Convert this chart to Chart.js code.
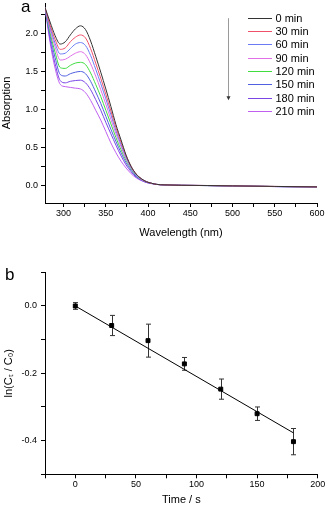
<!DOCTYPE html>
<html>
<head>
<meta charset="utf-8">
<script src="https://cdn.jsdelivr.net/npm/chart.js@4.4.0/dist/chart.umd.min.js"></script>
<style>
  html, body { margin: 0; padding: 0; background: #fff; }
  #wrap { position: relative; width: 327px; height: 507px; overflow: hidden; }
  canvas { position: absolute; left: 0; }
  #chartA { top: 0; }
  #chartB { top: 245px; }
  .panel { position: absolute; font: 17px Arial, "Liberation Sans", sans-serif; line-height: 1; color: #000; }
</style>
</head>
<body>
<div id="wrap">
  <canvas id="chartA" width="327" height="245"></canvas>
  <canvas id="chartB" width="327" height="262"></canvas>
  <div class="panel" style="left:21px; top:-2px;">a</div>
  <div class="panel" style="left:5px; top:266px;">b</div>
</div>
<script>
// panel a: absorption spectra
const wavelengths = [278, 284, 290, 296, 302, 308, 314, 320, 326, 332, 338, 344, 350, 356, 362, 368, 374, 380, 386, 392, 398, 404, 410, 420, 440, 470, 500, 550, 600];
const seriesLabels = ['0 min', '30 min', '60 min', '90 min', '120 min', '150 min', '180 min', '210 min'];
const seriesColors = ['#333333', '#f0506a', '#6a7cf5', '#e070e8', '#40dd40', '#5060e0', '#7a45e5', '#c060f0'];
const abs0   = [2.34, 2.15, 1.97, 1.86, 1.89, 1.98, 2.06, 2.10, 2.05, 1.90, 1.70, 1.49, 1.27, 1.04, 0.80, 0.60, 0.40, 0.25, 0.15, 0.09, 0.05, 0.03, 0.015, 0.008, 0.003, 0.0, -0.005, -0.012, -0.018];
const abs30  = [2.34, 2.11, 1.92, 1.79, 1.81, 1.89, 1.95, 1.98, 1.94, 1.80, 1.61, 1.41, 1.20, 0.98, 0.76, 0.57, 0.39, 0.25, 0.15, 0.09, 0.05, 0.03, 0.015, 0.008, 0.003, 0.0, -0.005, -0.012, -0.018];
const abs60  = [2.34, 2.08, 1.87, 1.73, 1.74, 1.80, 1.86, 1.88, 1.84, 1.71, 1.53, 1.34, 1.14, 0.93, 0.72, 0.54, 0.37, 0.24, 0.14, 0.09, 0.05, 0.03, 0.015, 0.008, 0.003, 0.0, -0.006, -0.013, -0.018];
const abs90  = [2.34, 2.05, 1.82, 1.65, 1.66, 1.70, 1.74, 1.76, 1.72, 1.60, 1.44, 1.26, 1.07, 0.87, 0.68, 0.51, 0.35, 0.23, 0.14, 0.08, 0.05, 0.03, 0.015, 0.008, 0.002, 0.0, -0.006, -0.013, -0.019];
const abs120 = [2.34, 2.01, 1.75, 1.55, 1.54, 1.58, 1.61, 1.62, 1.59, 1.48, 1.33, 1.17, 0.99, 0.81, 0.63, 0.47, 0.33, 0.22, 0.13, 0.08, 0.05, 0.03, 0.015, 0.008, 0.002, -0.001, -0.006, -0.013, -0.019];
const abs150 = [2.34, 1.97, 1.68, 1.46, 1.44, 1.47, 1.49, 1.50, 1.47, 1.37, 1.23, 1.08, 0.91, 0.74, 0.58, 0.43, 0.30, 0.20, 0.12, 0.075, 0.045, 0.028, 0.015, 0.008, 0.002, -0.001, -0.006, -0.014, -0.02];
const abs180 = [2.34, 1.92, 1.60, 1.38, 1.35, 1.37, 1.38, 1.385, 1.35, 1.26, 1.13, 0.99, 0.83, 0.68, 0.53, 0.39, 0.27, 0.18, 0.11, 0.07, 0.04, 0.026, 0.014, 0.007, 0.002, -0.001, -0.007, -0.014, -0.02];
const abs210 = [2.34, 1.88, 1.54, 1.33, 1.30, 1.29, 1.28, 1.27, 1.22, 1.12, 0.99, 0.86, 0.71, 0.56, 0.43, 0.32, 0.23, 0.155, 0.10, 0.065, 0.04, 0.025, 0.014, 0.007, 0.002, -0.001, -0.007, -0.014, -0.02];
const spectra = [abs0, abs30, abs60, abs90, abs120, abs150, abs180, abs210];
const arrowWavelength = 495;
const arrowFrom = 2.2;
const arrowTo = 1.12;

// panel b: kinetics
const times = [0, 30, 60, 90, 120, 150, 180];
const lnRatio = [0.0, -0.058, -0.103, -0.172, -0.247, -0.320, -0.403];
const lnError = [0.01, 0.03, 0.049, 0.019, 0.03, 0.02, 0.039];
const fitX = [0, 180];
const fitY = [0.0, -0.377];

const FONT = 'Arial, "Liberation Sans", sans-serif';

// tick marks on every multiple of step inside the axis range
function stepTicks(step) {
    return axis => {
        const out = [];
        const first = Math.ceil(axis.min / step - 1e-9);
        const last = Math.floor(axis.max / step + 1e-9);
        for (let k = first; k <= last; k++) out.push({ value: +(k * step).toFixed(6) });
        axis.ticks = out;
    };
}
function labelEvery(step, digits) {
    return v => {
        const r = Math.round(v / step);
        if (Math.abs(v / step - r) > 1e-6) return '';
        return (r * step + 0).toFixed(digits).replace('-0.0', '0.0');
    };
}
function axisBase() {
    return {
        type: 'linear',
        grid: { display: true, drawOnChartArea: false, drawTicks: true, tickLength: 4, color: '#000' },
        border: { display: true, color: '#000', width: 1 },
    };
}

const sideLegend = {
    id: 'sideLegend',
    afterDraw(chart) {
        const { ctx, chartArea } = chart;
        const xs = chart.scales.x, ys = chart.scales.y;
        ctx.save();
        // arrow
        const ax = Math.round(xs.getPixelForValue(arrowWavelength)) + 0.5;
        const ay1 = ys.getPixelForValue(arrowFrom);
        const ay2 = ys.getPixelForValue(arrowTo);
        ctx.strokeStyle = '#9a9a9a';
        ctx.lineWidth = 1;
        ctx.beginPath(); ctx.moveTo(ax, ay1); ctx.lineTo(ax, ay2 - 3); ctx.stroke();
        ctx.fillStyle = '#333';
        ctx.beginPath(); ctx.moveTo(ax - 2, ay2 - 4); ctx.lineTo(ax + 2, ay2 - 4); ctx.lineTo(ax, ay2); ctx.closePath(); ctx.fill();
        // legend
        const x0 = chartArea.right - 69;
        ctx.font = '11px ' + FONT;
        ctx.textBaseline = 'middle';
        chart.data.datasets.forEach((ds, i) => {
            const y = Math.round(chartArea.top + 14.7 + i * 13.33) + 0.5;
            ctx.strokeStyle = ds.borderColor;
            ctx.beginPath(); ctx.moveTo(x0, y); ctx.lineTo(x0 + 24, y); ctx.stroke();
            ctx.fillStyle = '#000';
            ctx.fillText(ds.label, x0 + 27.5, y);
        });
        ctx.restore();
    }
};

const errorBars = {
    id: 'errorBars',
    beforeDatasetsDraw(chart) {
        const { ctx } = chart;
        const xs = chart.scales.x, ys = chart.scales.y;
        ctx.save();
        ctx.strokeStyle = '#333';
        ctx.lineWidth = 1;
        times.forEach((t, i) => {
            const x = Math.round(xs.getPixelForValue(t)) + 0.5;
            const yt = ys.getPixelForValue(lnRatio[i] + lnError[i]);
            const yb = ys.getPixelForValue(lnRatio[i] - lnError[i]);
            ctx.beginPath();
            ctx.moveTo(x, yt); ctx.lineTo(x, yb);
            ctx.moveTo(x - 2.5, yt); ctx.lineTo(x + 2.5, yt);
            ctx.moveTo(x - 2.5, yb); ctx.lineTo(x + 2.5, yb);
            ctx.stroke();
        });
        ctx.restore();
    }
};

Chart.defaults.font.family = FONT;
Chart.defaults.color = '#000';

const xA = axisBase();
Object.assign(xA, {
    min: 278, max: 600,
    afterBuildTicks: stepTicks(25),
    afterFit: s => { s.height = 42; s.paddingLeft = 0; s.paddingRight = 0; },
    ticks: { autoSkip: false, maxRotation: 0, padding: 1, font: { size: 9 }, callback: labelEvery(50, 0) },
    title: { display: true, text: 'Wavelength (nm)', font: { size: 11 }, padding: { top: 0, bottom: 5.7 } }
});
const yA = axisBase();
Object.assign(yA, {
    min: -0.23, max: 2.4,
    afterBuildTicks: stepTicks(0.25),
    afterFit: s => { s.width = 45; s.paddingTop = 0; s.paddingBottom = 0; },
    ticks: { autoSkip: false, padding: 3, font: { size: 9 }, callback: labelEvery(0.5, 1) },
    title: { display: true, text: 'Absorption', font: { size: 11 }, padding: { top: 0.5, bottom: 0 } }
});

new Chart(document.getElementById('chartA'), {
    type: 'line',
    data: {
        datasets: spectra.map((vals, i) => ({
            label: seriesLabels[i],
            data: wavelengths.map((w, j) => ({ x: w, y: vals[j] })),
            borderColor: seriesColors[i],
            borderWidth: 1,
            pointRadius: 0,
            cubicInterpolationMode: 'monotone',
            fill: false
        }))
    },
    options: {
        responsive: false,
        animation: false,
        layout: { padding: { left: 0, right: 10, top: 3, bottom: 0 } },
        plugins: { legend: { display: false }, tooltip: { enabled: false } },
        scales: { x: xA, y: yA }
    },
    plugins: [sideLegend]
});

const xB = axisBase();
Object.assign(xB, {
    min: -25, max: 200,
    afterBuildTicks: stepTicks(25),
    afterFit: s => { s.height = 32.7; s.paddingLeft = 0; s.paddingRight = 0; },
    ticks: { autoSkip: false, maxRotation: 0, padding: 1, font: { size: 9 }, callback: labelEvery(50, 0) },
    title: { display: true, text: 'Time / s', font: { size: 11 }, padding: { top: 0, bottom: 0 } }
});
const yB = axisBase();
Object.assign(yB, {
    min: -0.5, max: 0.1,
    afterBuildTicks: stepTicks(0.1),
    afterFit: s => { s.width = 45; s.paddingTop = 0; s.paddingBottom = 0; },
    ticks: { autoSkip: false, padding: 4, font: { size: 9 }, callback: labelEvery(0.2, 1) },
    title: { display: true, text: 'ln(Cₜ / C₀)', font: { size: 11 }, padding: { top: 2.4, bottom: 0 } }
});

new Chart(document.getElementById('chartB'), {
    type: 'scatter',
    data: {
        datasets: [
            {
                label: 'fit',
                data: fitX.map((x, i) => ({ x: x, y: fitY[i] })),
                showLine: true,
                borderColor: '#000',
                borderWidth: 1,
                pointRadius: 0
            },
            {
                label: 'data',
                data: times.map((t, i) => ({ x: t, y: lnRatio[i] })),
                pointStyle: 'rect',
                pointRadius: 2.8,
                pointBackgroundColor: '#000',
                pointBorderColor: '#000',
                pointBorderWidth: 1
            }
        ]
    },
    options: {
        responsive: false,
        animation: false,
        layout: { padding: { left: 0, right: 9.3, top: 27.3, bottom: 0 } },
        plugins: { legend: { display: false }, tooltip: { enabled: false } },
        scales: { x: xB, y: yB }
    },
    plugins: [errorBars]
});
</script>
</body>
</html>
